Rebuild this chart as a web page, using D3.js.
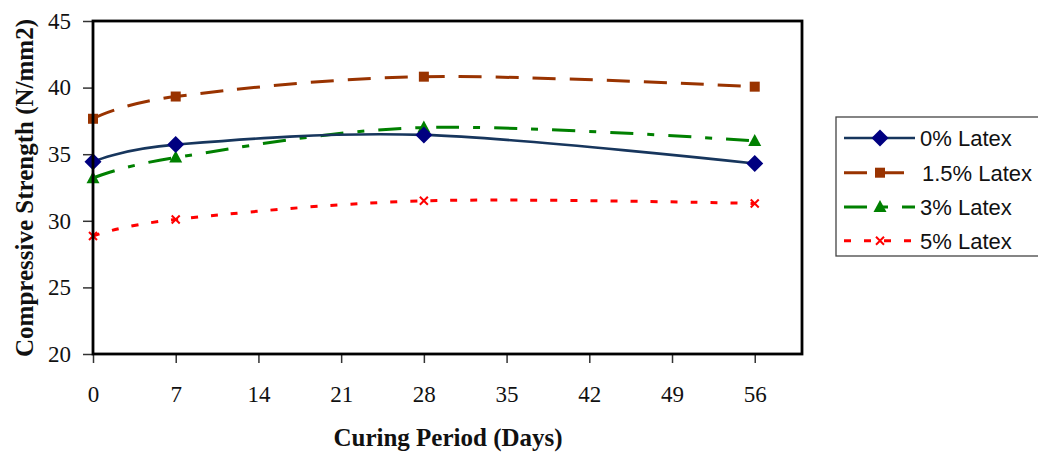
<!DOCTYPE html>
<html>
<head>
<meta charset="utf-8">
<script src="https://cdn.jsdelivr.net/npm/d3@7/dist/d3.min.js"></script>
<style>
  html, body { margin: 0; padding: 0; background: #fff; }
  svg { display: block; }
</style>
</head>
<body>
<svg id="chart" width="1038" height="452"></svg>
<script>
// ---- data ----
const days = [0, 7, 28, 56];
const xTicks = [0, 7, 14, 21, 28, 35, 42, 49, 56];
const yTicks = [20, 25, 30, 35, 40, 45];
const seriesNames = ["0% Latex", "1.5% Latex", "3% Latex", "5% Latex"];
const latex0  = [34.43, 35.72, 36.45, 34.3];
const latex15 = [37.66, 39.33, 40.82, 40.07];
const latex3  = [33.2, 34.75, 37.0, 36.0];
const latex5  = [28.86, 30.1, 31.5, 31.3];

// ---- layout ----
const svg = d3.select("#chart");
const L = 93, R = 802, T = 21, B = 354;
const x = d3.scaleLinear().domain([0, 60]).range([L, R]);
const y = d3.scaleLinear().domain([20, 45]).range([B, T]);

const styles = [
  { color: "#17365D", marker: "#000080", dash: null, width: 2.6, shape: "diamond" },
  { color: "#993300", marker: "#993300", dash: "23,14", width: 3, shape: "square" },
  { color: "#008000", marker: "#008000", dash: "23,14,7,14", width: 3, shape: "triangle" },
  { color: "#FF0000", marker: "#FF0000", dash: "7,13", width: 3, shape: "x" }
];
const allSeries = [latex0, latex15, latex3, latex5];
const serif = "'Liberation Serif','Times New Roman',serif";

// axes
const yAxis = d3.axisLeft(y).tickValues(yTicks).tickSize(10).tickPadding(12).tickFormat(d3.format("d"));
const gy = svg.append("g").attr("transform", `translate(${L},0)`).call(yAxis);
gy.select(".domain").remove();
gy.selectAll(".tick line").attr("stroke", "#333").attr("stroke-width", 1.5);
gy.selectAll(".tick text").attr("font-family", serif).attr("font-size", 23).attr("fill", "#111");

const xAxis = d3.axisBottom(x).tickValues(xTicks).tickSize(9).tickPadding(23).tickFormat(d3.format("d"));
const gx = svg.append("g").attr("transform", `translate(0,${B})`).call(xAxis);
gx.select(".domain").remove();
gx.selectAll(".tick line").attr("stroke", "#333").attr("stroke-width", 1.5);
gx.selectAll(".tick text").attr("font-family", serif).attr("font-size", 23).attr("fill", "#111");

// lines
const line = d3.line().x((d, i) => x(days[i])).y(d => y(d)).curve(d3.curveCardinal.tension(0));

function drawMarker(g, shape, cx, cy, col) {
  if (shape === "diamond") {
    g.append("path").attr("d", `M${cx},${cy-8.5}L${cx+8.5},${cy}L${cx},${cy+8.5}L${cx-8.5},${cy}Z`).attr("fill", col);
  } else if (shape === "square") {
    g.append("rect").attr("x", cx-5).attr("y", cy-5).attr("width", 10).attr("height", 10).attr("fill", col);
  } else if (shape === "triangle") {
    g.append("path").attr("d", `M${cx},${cy-7}L${cx+6.5},${cy+5}L${cx-6.5},${cy+5}Z`).attr("fill", col);
  } else {
    g.append("path").attr("d", `M${cx-4},${cy-4}L${cx+4},${cy+4}M${cx-4},${cy+4}L${cx+4},${cy-4}`)
      .attr("stroke", col).attr("stroke-width", 2).attr("fill", "none");
  }
}

[3, 2, 1, 0].forEach(si => {
  const st = styles[si];
  const g = svg.append("g");
  g.append("path").datum(allSeries[si]).attr("d", line)
    .attr("fill", "none").attr("stroke", st.color).attr("stroke-width", st.width)
    .attr("stroke-dasharray", st.dash);
  allSeries[si].forEach((v, i) => drawMarker(g, st.shape, x(days[i]), y(v), st.marker));
});

// frame
svg.append("rect").attr("x", L).attr("y", T).attr("width", R - L).attr("height", B - T)
  .attr("fill", "none").attr("stroke", "#000").attr("stroke-width", 2.8);

// axis titles
svg.append("text").attr("x", 448).attr("y", 446).attr("text-anchor", "middle")
  .attr("font-family", serif).attr("font-weight", "bold")
  .attr("font-size", 25).attr("fill", "#111").text("Curing Period (Days)");
svg.append("text").attr("transform", "translate(33,188) rotate(-90)").attr("text-anchor", "middle")
  .attr("font-family", serif).attr("font-weight", "bold")
  .attr("font-size", 25).attr("fill", "#111").text("Compressive Strength (N/mm2)");

// legend
const lg = svg.append("g");
lg.append("rect").attr("x", 836).attr("y", 117).attr("width", 210).attr("height", 139)
  .attr("fill", "#fff").attr("stroke", "#444").attr("stroke-width", 1.3);
const rowY = [138, 172.7, 207, 240.7];
seriesNames.forEach((name, i) => {
  const st = styles[i];
  lg.append("line").attr("x1", 844).attr("x2", 915).attr("y1", rowY[i]).attr("y2", rowY[i])
    .attr("stroke", st.color).attr("stroke-width", st.width).attr("stroke-dasharray", st.dash);
  drawMarker(lg, st.shape, 880, rowY[i], st.marker);
  lg.append("text").attr("x", i === 1 ? 922 : 920).attr("y", rowY[i] + 8)
    .attr("font-family", "'Liberation Sans',Arial,sans-serif").attr("font-size", 22)
    .attr("fill", "#111").text(name);
});
</script>
</body>
</html>
